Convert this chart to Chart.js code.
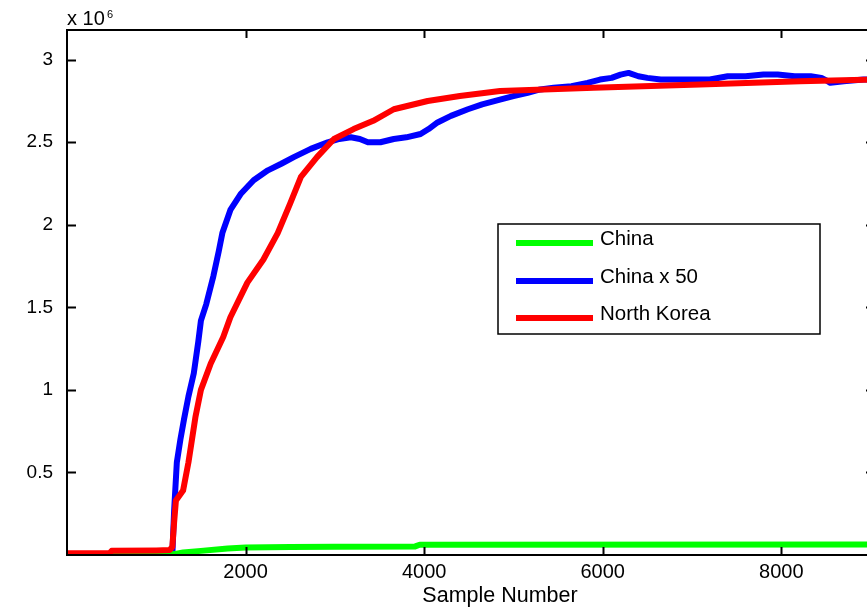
<!DOCTYPE html>
<html>
<head>
<meta charset="utf-8">
<script src="https://cdn.jsdelivr.net/npm/chart.js@4.4.1/dist/chart.umd.min.js"></script>
<style>
    html, body { margin: 0; padding: 0; background: #fff; overflow: hidden; }
    #wrap { width: 867px; height: 610px; overflow: hidden; }
    canvas { display: block; }
</style>
</head>
<body>
<div id="wrap"><canvas id="plot" width="885" height="610"></canvas></div>
<script>
// values in units of 10^6, x is the sample number
const chinaX = [0, 1150, 1200, 1300, 1500, 1800, 2000, 2500, 3000, 3900, 3950, 9050];
const chinaY = [0.005, 0.008, 0.005, 0.015, 0.025, 0.04, 0.045, 0.048, 0.05, 0.052, 0.062, 0.064];

const china50X = [0, 150, 300, 450, 600, 750, 900, 1050, 1150, 1180, 1200, 1230, 1270, 1310, 1360, 1420, 1470, 1500,
    1560, 1640, 1700, 1740, 1830, 1950, 2090, 2250, 2400, 2540, 2730, 2920, 3050, 3180, 3280, 3370, 3510, 3660, 3800,
    3960, 4050, 4150, 4300, 4490, 4650, 4860, 5000, 5160, 5300, 5450, 5650, 5830, 5970, 6100, 6200, 6290, 6400, 6500,
    6650, 6800, 7020, 7200, 7400, 7600, 7800, 7960, 8150, 8330, 8450, 8520, 8550, 8700, 8920, 9050];
const china50Y = [-0.01, -0.015, -0.01, 0.0, -0.005, 0.0, -0.015, -0.005, -0.015, 0.0, 0.27, 0.56, 0.7, 0.82, 0.96, 1.1, 1.29, 1.42,
    1.52, 1.69, 1.84, 1.95, 2.09, 2.19, 2.27, 2.33, 2.37, 2.41, 2.46, 2.5, 2.52, 2.53, 2.52, 2.5, 2.5, 2.52, 2.53,
    2.55, 2.58, 2.62, 2.66, 2.7, 2.73, 2.76, 2.78, 2.8, 2.82, 2.83, 2.84, 2.86, 2.88, 2.89, 2.91, 2.92, 2.9, 2.89,
    2.88, 2.88, 2.88, 2.88, 2.9, 2.9, 2.91, 2.91, 2.9, 2.9, 2.89, 2.87, 2.86, 2.87, 2.88, 2.88];

const koreaX = [0, 480, 500, 1000, 1150, 1180, 1200, 1220, 1300, 1360, 1440, 1500, 1610, 1750, 1830, 2020, 2200, 2360,
    2500, 2620, 2800, 2990, 3210, 3430, 3660, 4040, 4400, 4850, 5340, 5900, 7090, 8210, 9050];
const koreaY = [0.01, 0.012, 0.025, 0.028, 0.03, 0.05, 0.2, 0.33, 0.39, 0.56, 0.84, 1.0, 1.16, 1.32, 1.44, 1.65, 1.79, 1.95,
    2.13, 2.29, 2.41, 2.52, 2.58, 2.63, 2.7, 2.75, 2.78, 2.81, 2.82, 2.83, 2.85, 2.87, 2.88];

const seriesNames = ['China', 'China x 50', 'North Korea'];
const seriesColors = ['#00ff00', '#0000ff', '#ff0000'];
const xTicks = [2000, 4000, 6000, 8000];
const yTicks = [0.5, 1, 1.5, 2, 2.5, 3];

const FONT = '"Liberation Sans", Arial, Helvetica, sans-serif';

function toPoints(xs, ys) {
    return xs.map((x, i) => ({ x, y: ys[i] }));
}

// MATLAB style box with inward ticks, exponent label, x label and legend
const matlabFrame = {
    id: 'matlabFrame',
    afterDatasetsDraw(chart) {
        const { ctx, chartArea: a, scales: { x, y } } = chart;
        ctx.save();
        ctx.strokeStyle = '#000';
        ctx.lineWidth = 2;
        ctx.strokeRect(a.left, a.top, a.right - a.left, a.bottom - a.top);

        ctx.beginPath();
        xTicks.forEach(v => {
            const px = Math.round(x.getPixelForValue(v)) + 0.5;
            ctx.moveTo(px, a.bottom); ctx.lineTo(px, a.bottom - 8);
            ctx.moveTo(px, a.top); ctx.lineTo(px, a.top + 8);
        });
        yTicks.forEach(v => {
            const py = Math.round(y.getPixelForValue(v)) + 0.5;
            ctx.moveTo(a.left, py); ctx.lineTo(a.left + 9, py);
            ctx.moveTo(a.right, py); ctx.lineTo(a.right - 9, py);
        });
        ctx.lineWidth = 2;
        ctx.stroke();

        // exponent
        ctx.fillStyle = '#000';
        ctx.textBaseline = 'alphabetic';
        ctx.font = '20px ' + FONT;
        ctx.fillText('x 10', a.left, a.top - 5);
        ctx.font = '11px ' + FONT;
        ctx.fillText('6', a.left + 40, a.top - 12);

        // axis label
        ctx.font = '21.5px ' + FONT;
        ctx.textAlign = 'center';
        ctx.fillText('Sample Number', 500, 602);

        // legend box
        const lx = a.left + 431, ly = a.top + 194, lw = 322, lh = 110;
        ctx.fillStyle = '#fff';
        ctx.fillRect(lx, ly, lw, lh);
        ctx.lineWidth = 1.5;
        ctx.strokeRect(lx, ly, lw, lh);
        const rows = [19, 57, 94];
        ctx.textAlign = 'left';
        ctx.font = '20.5px ' + FONT;
        seriesNames.forEach((name, i) => {
            const ry = ly + rows[i];
            ctx.strokeStyle = seriesColors[i];
            ctx.lineWidth = 6;
            ctx.beginPath();
            ctx.moveTo(lx + 18, ry); ctx.lineTo(lx + 95, ry);
            ctx.stroke();
            ctx.fillStyle = '#000';
            ctx.fillText(name, lx + 102, ry + 2);
        });
        ctx.restore();
    }
};

new Chart(document.getElementById('plot'), {
    type: 'line',
    data: {
        datasets: [
            { label: seriesNames[0], data: toPoints(chinaX, chinaY), borderColor: seriesColors[0], order: 1 },
            { label: seriesNames[1], data: toPoints(china50X, china50Y), borderColor: seriesColors[1], order: 2 },
            { label: seriesNames[2], data: toPoints(koreaX, koreaY), borderColor: seriesColors[2], order: 0 }
        ]
    },
    options: {
        responsive: false,
        animation: false,
        layout: { padding: { top: 30, right: 10, left: 0, bottom: 0 } },
        elements: {
            line: { borderWidth: 6, tension: 0, borderJoinStyle: 'round', borderCapStyle: 'round', fill: false },
            point: { radius: 0 }
        },
        plugins: {
            legend: { display: false },
            tooltip: { enabled: false }
        },
        scales: {
            x: {
                type: 'linear',
                min: 0,
                max: 9050,
                afterBuildTicks: (scale) => { scale.ticks = xTicks.map(v => ({ value: v })); },
                afterFit: (scale) => { scale.height = 55; },
                grid: { display: false, drawTicks: false },
                border: { display: false },
                ticks: {
                    color: '#000',
                    font: { family: FONT, size: 20 },
                    padding: 5,
                    maxRotation: 0,
                    autoSkip: false,
                    callback: (v) => String(v)
                }
            },
            y: {
                type: 'linear',
                min: 0,
                max: 3.18,
                afterBuildTicks: (scale) => { scale.ticks = yTicks.map(v => ({ value: v })); },
                afterFit: (scale) => { scale.width = 67; },
                grid: { display: false, drawTicks: false },
                border: { display: false },
                ticks: {
                    color: '#000',
                    font: { family: FONT, size: 19 },
                    padding: 14,
                    autoSkip: false,
                    callback: (v) => String(v)
                }
            }
        }
    },
    plugins: [matlabFrame]
});
</script>
</body>
</html>
